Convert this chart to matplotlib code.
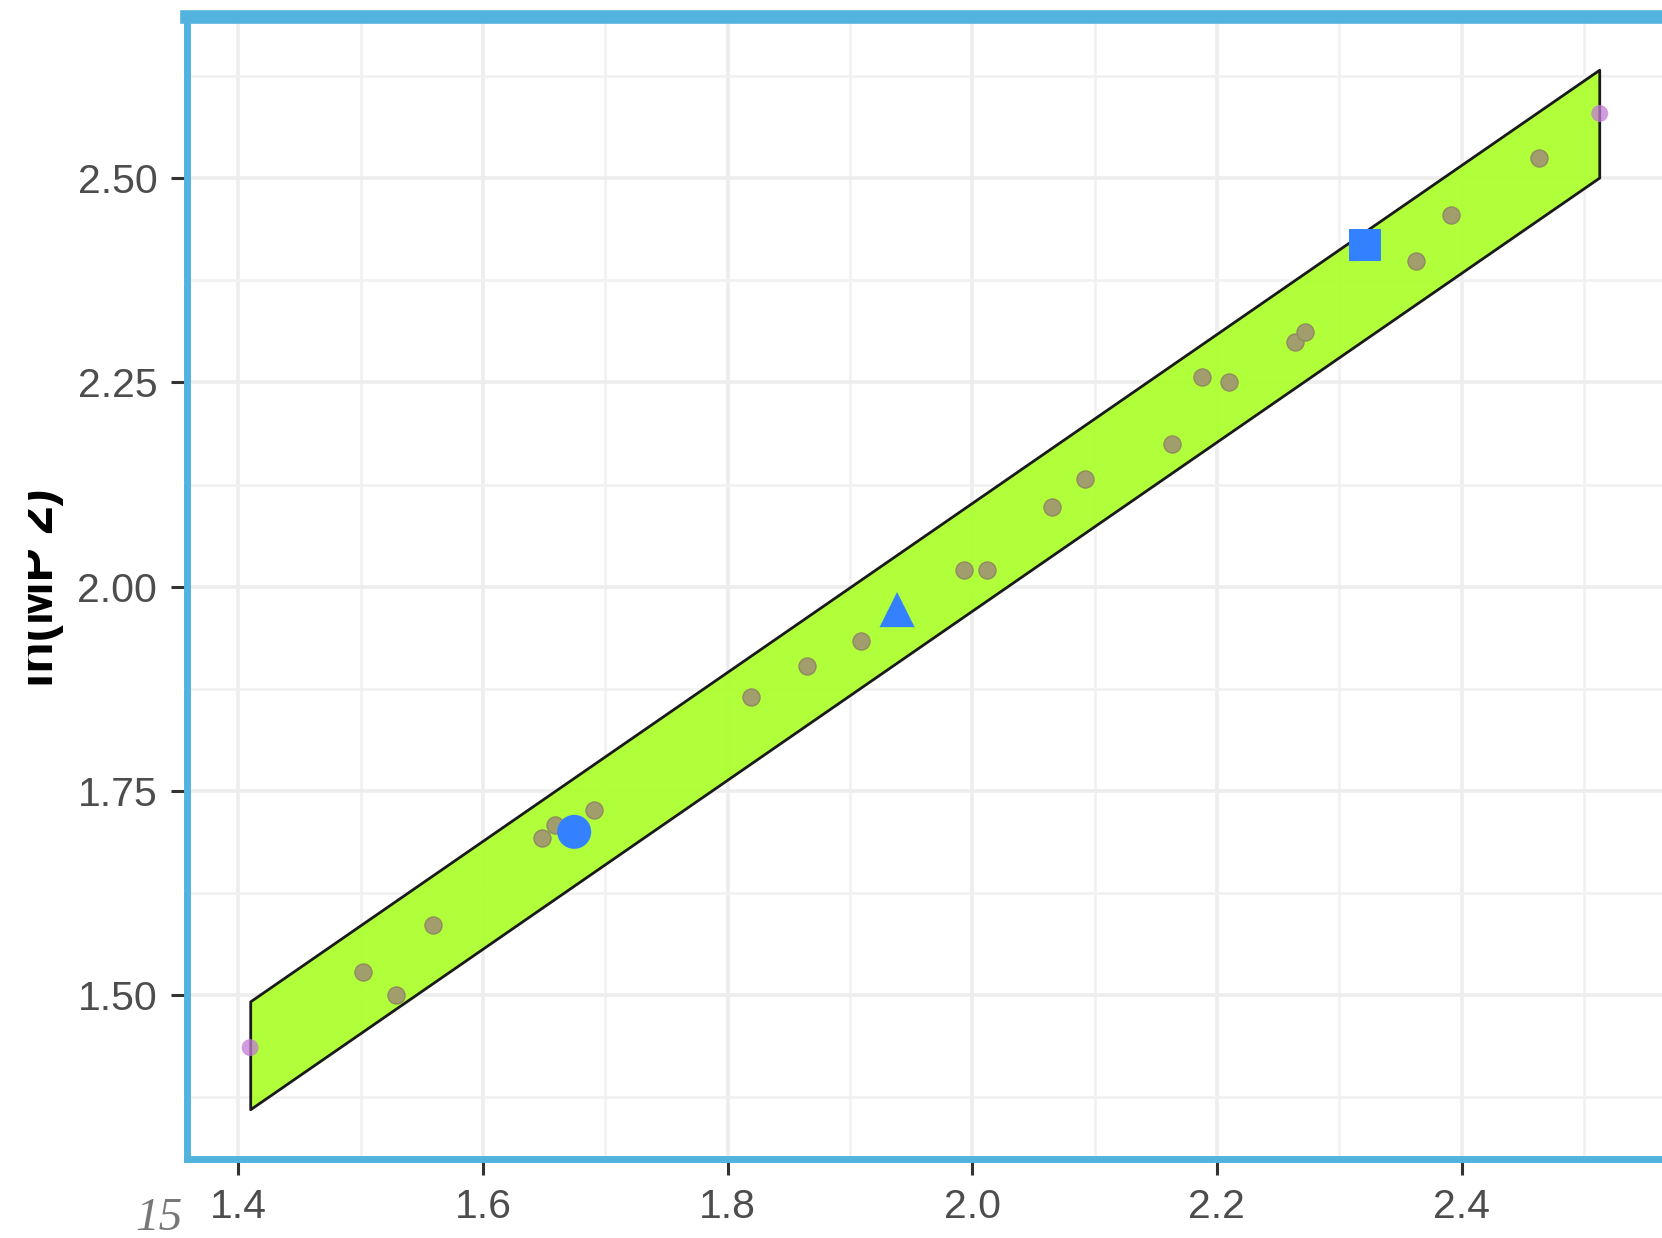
import matplotlib
matplotlib.use("Agg")
import matplotlib.pyplot as plt
from matplotlib.transforms import Bbox, TransformedBbox

# ---- data ----
band_x = [1.41, 2.513]
band_upper = [1.492, 2.632]
band_lower = [1.360, 2.500]

obs_x = [1.502, 1.529, 1.559, 1.648, 1.659, 1.691, 1.819, 1.865, 1.909,
         1.993, 2.012, 2.065, 2.092, 2.163, 2.188, 2.210, 2.264, 2.272,
         2.363, 2.391, 2.463]
obs_y = [1.529, 1.500, 1.586, 1.693, 1.709, 1.727, 1.865, 1.903, 1.933,
         2.021, 2.020, 2.098, 2.132, 2.174, 2.256, 2.250, 2.300, 2.312,
         2.399, 2.455, 2.525]

end_x = [1.4095, 2.513]
end_y = [1.436, 2.579]

special_x = [1.6745, 1.9385, 2.3212]
special_y = [1.700, 1.972, 2.418]
special_markers = ["o", "^", "s"]

x_major = [1.4, 1.6, 1.8, 2.0, 2.2, 2.4]
x_labels = ["1.4", "1.6", "1.8", "2.0", "2.2", "2.4"]
x_minor = [1.5, 1.7, 1.9, 2.1, 2.3, 2.5]
y_major = [1.50, 1.75, 2.00, 2.25, 2.50]
y_labels = ["1.50", "1.75", "2.00", "2.25", "2.50"]
y_minor = [1.375, 1.625, 1.875, 2.125, 2.375, 2.625]

y_title = "ln(MP 2)"
page_number = "15"

# ---- figure ----
W, H = 1662, 1238
fig = plt.figure(figsize=(W / 100, H / 100), dpi=100)
fig.patch.set_facecolor("white")

left_px, right_px, top_px, bottom_px = 186.5, 1667, 16.5, 1159
ax = fig.add_axes([left_px / W, 1 - bottom_px / H,
                   (right_px - left_px) / W, (bottom_px - top_px) / H])
ax.set_facecolor("white")
ax.set_xlim(1.3575, 2.568)
ax.set_ylim(1.2997, 2.6977)

# grid
ax.set_xticks(x_major)
ax.set_xticklabels(x_labels)
ax.set_yticks(y_major)
ax.set_yticklabels(y_labels)
ax.set_xticks(x_minor, minor=True)
ax.set_yticks(y_minor, minor=True)
ax.grid(True, which="major", color="#EDEDED", linewidth=2.6, zorder=0)
ax.grid(True, which="minor", color="#F1F1F1", linewidth=1.9, zorder=0)
ax.set_axisbelow(True)

# band
ax.fill_between(band_x, band_lower, band_upper, facecolor="#ADFF2F",
                edgecolor="none", alpha=0.95, zorder=2)
ax.fill_between(band_x, band_lower, band_upper, facecolor="none",
                edgecolor="#1a1a1a", linewidth=2.0, zorder=2.1)

# points
ax.scatter(obs_x, obs_y, s=150, facecolor="#a19d6d", edgecolor="#8f8a60",
           linewidth=1.0, zorder=3)
ax.scatter(end_x, end_y, s=150, facecolor="#c27ad6", edgecolor="none",
           alpha=0.75, zorder=3)
sizes = {"o": 600, "^": 640, "s": 520}
for x, y, m in zip(special_x, special_y, special_markers):
    ax.scatter([x], [y], s=sizes[m], marker=m, facecolor="#3381FF",
               edgecolor="none", zorder=4)

# ticks and spines
ax.tick_params(which="major", direction="out", length=11.5, width=2.2,
               color="#333333", labelsize=29.5, labelcolor="#4D4D4D", pad=9.5)
ax.tick_params(which="minor", length=0)
for lab in ax.get_xticklabels() + ax.get_yticklabels():
    lab.set_fontfamily("Liberation Sans")

blue = "#52B4DE"
ax.spines["right"].set_visible(False)
ax.spines["left"].set_color(blue)
ax.spines["left"].set_linewidth(5.0)
ax.spines["bottom"].set_color(blue)
ax.spines["bottom"].set_linewidth(5.0)
ax.spines["top"].set_color(blue)
ax.spines["top"].set_linewidth(9.8)
for s in ax.spines.values():
    s.set_zorder(5)

# y title (partially clipped at the left)
t = fig.text(53 / W, 1 - 587.5 / H, y_title, rotation=90, rotation_mode="anchor",
             ha="center", va="baseline", fontsize=37, fontweight="bold",
             color="black", family="Liberation Sans")
t.set_clip_box(TransformedBbox(Bbox([[28 / W, 0], [1, 1]]), fig.transFigure))
t.set_clip_on(True)

# page number
fig.text(159 / W, 1 - 1230 / H, page_number, ha="center", va="baseline",
         fontsize=34, fontstyle="italic", color="#777777",
         family="Liberation Serif")

fig.savefig("out.png", dpi=100, facecolor="white")
